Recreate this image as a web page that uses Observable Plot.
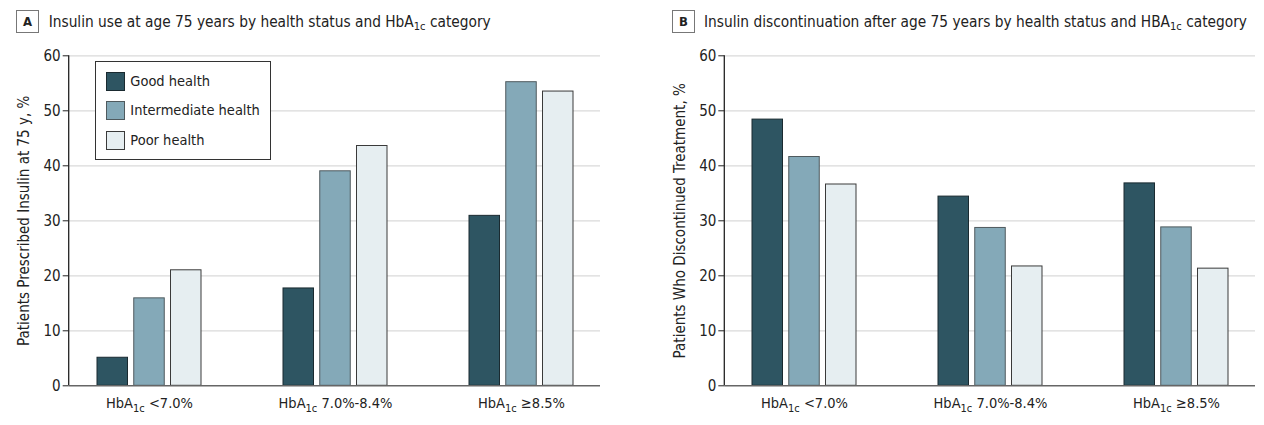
<!DOCTYPE html>
<html><head><meta charset="utf-8">
<script src="https://cdn.jsdelivr.net/npm/d3@7"></script>
<script src="https://cdn.jsdelivr.net/npm/@observablehq/plot@0.6"></script>
<style>
body{margin:0;background:#fff;font-family:"DejaVu Sans Condensed","Liberation Sans",sans-serif;color:#222}
#wrap{position:relative;width:1264px;height:425px;overflow:hidden}
.panel{position:absolute;top:0;width:632px;height:425px}
.badge{position:absolute;left:16px;top:10px;width:21px;height:21px;border:1px solid #777;font-weight:bold;font-size:13px;text-align:center;line-height:21px}
.ttext{position:absolute;left:48.7px;top:13px;white-space:nowrap;line-height:18px;font-size:15.3px}
sub{font-size:72%;vertical-align:-0.3em;line-height:0}
.svgbox{position:absolute;top:40px;left:0}
.legend{position:absolute;left:95.3px;top:61.3px;width:173.4px;height:97px;border:1px solid #333;background:#fff}
.li{position:absolute;left:10px;height:19px;white-space:nowrap}
.sw{position:absolute;left:0;top:0;width:17px;height:17px;border:1px solid #333}
.lt{position:absolute;left:24px;top:0;line-height:19px;font-size:14.5px}
</style></head>
<body><div id="wrap"></div>
<script>
// ---- data ----
const xTickLabels = ["HbA1c <7.0%", "HbA1c 7.0%-8.4%", "HbA1c ≥8.5%"];
const healthStatuses = ["Good health", "Intermediate health", "Poor health"];
const yTicks = [0, 10, 20, 30, 40, 50, 60];
// Panel A: insulin use at age 75, %
const useGood = [5.1, 17.7, 30.9];
const useIntermediate = [15.9, 39.0, 55.2];
const usePoor = [21.0, 43.6, 53.5];
// Panel B: discontinuation after age 75, %
const discGood = [48.4, 34.4, 36.8];
const discIntermediate = [41.6, 28.7, 28.8];
const discPoor = [36.6, 21.7, 21.3];

const fills = ["#2e5562", "#84a9b8", "#e6eef1"];
const strokes = ["#1a2a30", "#4f5a5e", "#3a3a3a"];
const FONT = '"DejaVu Sans Condensed","Liberation Sans",sans-serif';

function rows(series) {
  const out = [];
  series.forEach((vals, i) => vals.forEach((v, j) => out.push({group: xTickLabels[j], health: healthStatuses[i], value: v})));
  return out;
}

function makePanel(opts) {
  const {left, letter, titleHTML, series, ylabel, marginLeft, marginRight, centers, labelX, legend} = opts;
  const panel = document.createElement("div");
  panel.className = "panel";
  panel.style.left = left + "px";
  panel.innerHTML = `<div class="badge" style="left:${opts.badgeX}px">${letter}</div><div class="ttext" style="left:${opts.titleX}px">${titleHTML}</div>`;
  document.getElementById("wrap").appendChild(panel);

  const data = rows(series);
  const bw = 104, barW = 30.5, innerStep = (bw - barW) / 2;
  const step = (centers[2] - centers[0]) / 2;
  const pi = (step - bw) / step;
  const range = [centers[0] - bw / 2, centers[2] + bw / 2];

  const bars = healthStatuses.map((h, i) => Plot.barY(data.filter(d => d.health === h), {
    x: "group", y: "value", fill: "health", stroke: strokes[i], strokeWidth: 1,
    insetLeft: i * innerStep, insetRight: (2 - i) * innerStep
  }));

  const chart = Plot.plot({
    width: 632, height: 385,
    marginTop: 15.3, marginBottom: 39.7, marginLeft, marginRight,
    style: {fontFamily: FONT, fontSize: "15px", color: "#222", background: "transparent"},
    x: {type: "band", domain: xTickLabels, range, paddingInner: pi, paddingOuter: 0, align: 0.5},
    y: {domain: [0, 60]},
    color: {domain: healthStatuses, range: fills},
    marks: [
      Plot.gridY(yTicks.slice(1), {stroke: "#dadada", strokeOpacity: 1, strokeWidth: 1.3}),
      Plot.axisY(yTicks, {tickSize: 6, tickPadding: 2.5, label: null, fontSize: 15}),
      ...bars,
      Plot.ruleY([0], {stroke: "#666", strokeWidth: 1.5}),
      Plot.axisX({tickSize: 0, tickPadding: 12, label: null, fontSize: 14.5}),
      Plot.text([ylabel], {text: d => d, frameAnchor: "left", textAnchor: "middle", dx: -(marginLeft - labelX), rotate: -90, fontSize: 15, fill: "#222"})
    ]
  });

  // vertical y-axis line
  const y = chart.scale("y");
  d3.select(chart).append("line")
    .attr("x1", marginLeft).attr("x2", marginLeft)
    .attr("y1", y.apply(60)).attr("y2", y.apply(0))
    .attr("stroke", "#222").attr("stroke-width", 1.3);

  // subscripts in tick labels
  d3.select(chart).selectAll("text").filter(function() { return this.textContent.startsWith("HbA1c"); })
    .each(function() {
      const s = this.textContent;
      const rest = s.slice(5);
      const t = d3.select(this);
      t.text(null);
      t.append("tspan").text("HbA");
      t.append("tspan").attr("dy", 4).attr("font-size", "11px").text("1c");
      t.append("tspan").attr("dy", -4).text(rest.startsWith(" ") ? "\u00a0" + rest.slice(1) : rest);
    });

  const box = document.createElement("div");
  box.className = "svgbox";
  box.appendChild(chart);
  panel.appendChild(box);

  if (legend) {
    const lg = document.createElement("div");
    lg.className = "legend";
    healthStatuses.forEach((h, i) => {
      const it = document.createElement("div");
      it.className = "li";
      it.style.top = (9.7 + i * 29.3) + "px";
      it.innerHTML = `<div class="sw" style="background:${fills[i]};border-color:${strokes[i]}"></div><div class="lt">${h}</div>`;
      lg.appendChild(it);
    });
    panel.appendChild(lg);
  }
}

makePanel({
  left: 0, letter: "A", badgeX: 16, titleX: 48.7,
  titleHTML: "Insulin use at age 75 years by health status and HbA<sub>1c</sub> category",
  series: [useGood, useIntermediate, usePoor],
  ylabel: "Patients Prescribed Insulin at 75 y, %",
  marginLeft: 68.7, marginRight: 32,
  centers: [148.05, 334.3, 520.8], labelX: 24, legend: true
});
makePanel({
  left: 632, letter: "B", badgeX: 40, titleX: 72,
  titleHTML: "Insulin discontinuation after age 75 years by health status and HBA<sub>1c</sub> category",
  series: [discGood, discIntermediate, discPoor],
  ylabel: "Patients Who Discontinued Treatment, %",
  marginLeft: 92.3, marginRight: 9,
  centers: [171.8, 358.3, 544.5], labelX: 48, legend: false
});
</script>
</body></html>
